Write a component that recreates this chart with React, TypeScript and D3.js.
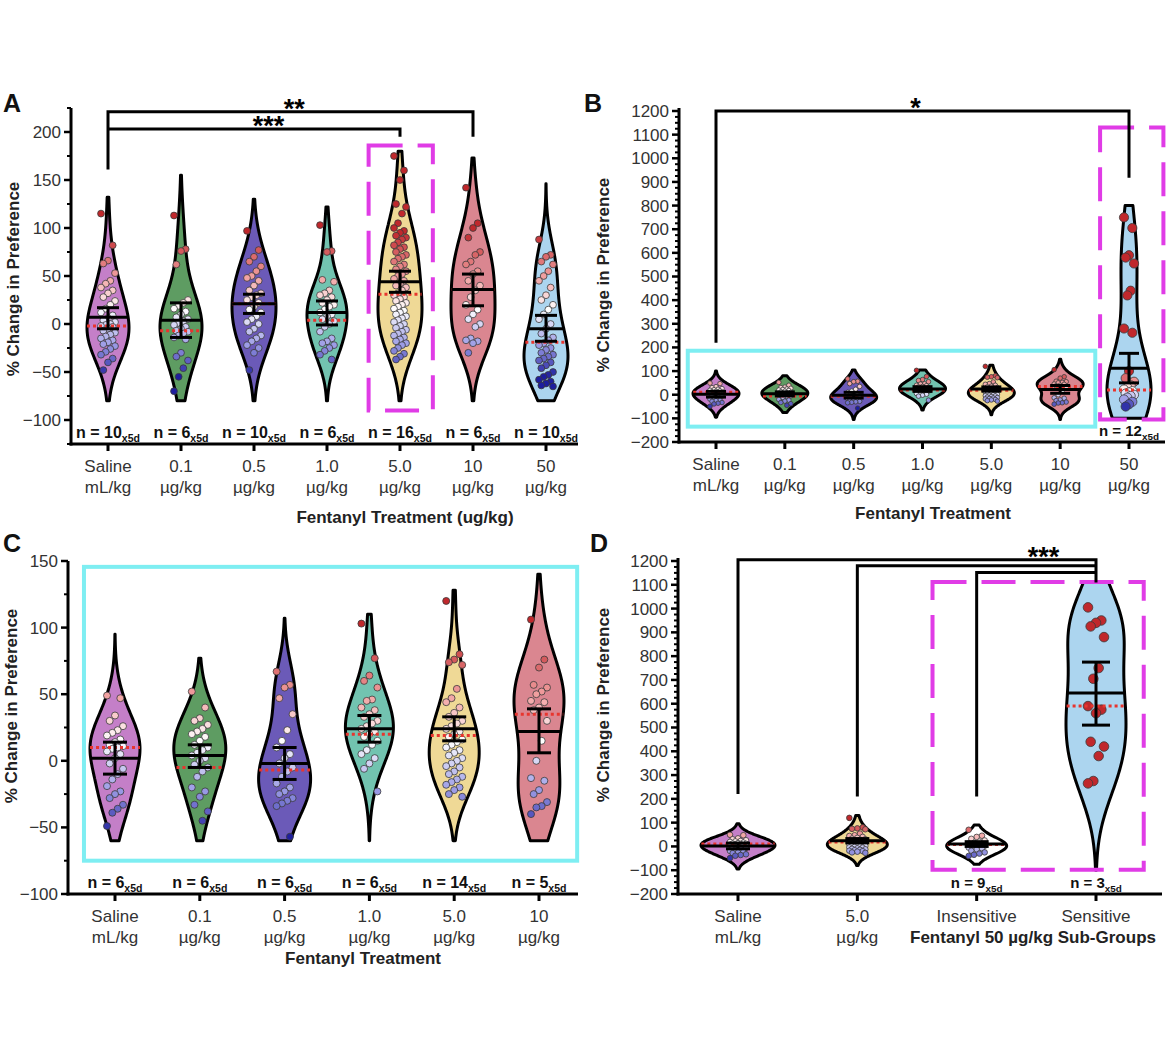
import React from "react";
import * as d3 from "d3";

const FONT = "'Liberation Sans', Arial, Helvetica, sans-serif";

// ---------------- DATA ----------------
// Panel A
const catTopA = ["Saline", "0.1", "0.5", "1.0", "5.0", "10", "50"];
const catBotA = ["mL/kg", "µg/kg", "µg/kg", "µg/kg", "µg/kg", "µg/kg", "µg/kg"];
const yTicksA = [-100, -50, 0, 50, 100, 150, 200];
const aSaline = [115, 82, 66, 63, 53, 45, 42, 38, 35, 32, 28, 24, 20, 16, 12, 9, 6, 4, 2, 0, -1, -2, -3, -5, -7, -9, -11, -13, -15, -17, -19, -21, -23, -26, -29, -32, -36, -40, -48];
const aF01 = [113, 78, 76, 62, 25, 22, 19, 16, 13, 10, 7, 5, 3, 1, -1, -3, -5, -7, -8, -10, -12, -14, -16, -30, -34, -38, -46, -55, -70];
const aF05 = [97, 77, 70, 65, 60, 55, 50, 48, 45, 40, 35, 32, 30, 28, 25, 22, 18, 15, 12, 8, 5, 2, 0, -5, -8, -12, -15, -18, -22, -25, -30, -48];
const aF1 = [103, 76, 75, 46, 44, 35, 32, 30, 28, 25, 22, 20, 18, 15, 12, 10, 8, 5, 3, 0, -3, -8, -15, -18, -20, -22, -25, -28, -32, -37];
const aF5 = [175, 160, 150, 125, 122, 115, 105, 100, 97, 95, 92, 90, 88, 85, 82, 80, 78, 75, 72, 70, 68, 65, 62, 60, 57, 55, 52, 50, 47, 45, 42, 40, 38, 35, 32, 30, 28, 26, 24, 22, 20, 18, 16, 14, 12, 10, 8, 6, 4, 2, 0, -2, -4, -6, -8, -10, -12, -14, -16, -18, -20, -22, -25, -28, -31, -34, -37];
const aF10 = [142, 105, 100, 90, 75, 72, 65, 62, 55, 52, 45, 40, 35, 28, 20, 15, 10, 5, 0, -3, -15, -17, -18, -20, -30];
const aF50 = [88, 72, 70, 65, 62, 55, 50, 45, 38, 30, 25, 20, 15, 10, 5, 0, -5, -10, -14, -17, -20, -22, -25, -27, -30, -32, -34, -36, -38, -40, -43, -46, -50, -53, -55, -58, -60, -62, -64, -65];
const meanA = [7, 4, 21, 12, 44, 36, -5];
const errHiA = [17, 22, 31, 24, 55, 52, 9];
const errLoA = [-5, -14, 11, -1, 33, 19, -18];
const medianA = [-2, -7, 21, 4, 31, 36, -19];
const nA = [10, 6, 10, 6, 16, 6, 10];
const vLoA = [-80, -80, -80, -80, -80, -80, -80];
const vHiA = [132, 155, 130, 122, 180, 173, 146];

// Panel C (also the small groups in B and D)
const catTopC = ["Saline", "0.1", "0.5", "1.0", "5.0", "10"];
const catBotC = ["mL/kg", "µg/kg", "µg/kg", "µg/kg", "µg/kg", "µg/kg"];
const yTicksC = [-100, -50, 0, 50, 100, 150];
const cSaline = [49, 47, 34, 30, 26, 23, 21, 19, 16, 14, 12, 11, 10, 9, 7, 5, 2, -2, -6, -10, -14, -19, -23, -25, -28, -33, -36, -39, -49];
const cF01 = [52, 40, 32, 30, 27, 24, 22, 20, 18, 15, 12, 10, 8, 6, 4, 2, 0, -3, -5, -8, -12, -20, -23, -27, -33, -38, -45];
const cF05 = [67, 57, 55, 47, 35, 23, 15, 10, 5, 2, -2, -5, -8, -12, -17, -20, -23, -25, -28, -30, -32, -34, -57];
const cF1 = [103, 77, 64, 60, 55, 46, 45, 40, 38, 35, 33, 30, 28, 26, 24, 22, 20, 18, 15, 12, 8, 5, 2, -2, -6, -23];
const cF5 = [120, 80, 76, 74, 72, 54, 47, 44, 40, 36, 33, 30, 28, 26, 24, 22, 20, 18, 16, 14, 12, 10, 8, 6, 4, 2, 0, -2, -4, -5, -8, -10, -12, -14, -16, -18, -20, -22, -25, -27];
const cF10 = [106, 76, 70, 57, 55, 52, 50, 45, 44, 40, 38, 30, 15, 0, -13, -15, -22, -25, -31, -34, -35, -40];
const meanC = [2, 4, -2, 24, 24, 22];
const errHiC = [14, 12, 10, 34, 33, 39];
const errLoC = [-10, -5, -14, 14, 15, 6];
const medianC = [10, -5, -7, 20, 19, 35];
const nC = [6, 6, 6, 6, 14, 5];
const vLoC = [-60, -60, -60, -60, -60, -60];
const vHiC = [95, 77, 107, 110, 128, 140];

// Panel B
const catTopB = ["Saline", "0.1", "0.5", "1.0", "5.0", "10", "50"];
const catBotB = ["mL/kg", "µg/kg", "µg/kg", "µg/kg", "µg/kg", "µg/kg", "µg/kg"];
const yTicksB = [-200, -100, 0, 100, 200, 300, 400, 500, 600, 700, 800, 900, 1000, 1100, 1200];
const bF50 = [750, 705, 590, 580, 555, 440, 420, 280, 262, 100, 70, 55, 40, 30, 22, 15, 10, 5, 0, -5, -12, -20, -30, -40, -50];
const meanB = [2, 4, -2, 24, 24, 22, 112];
const errHiB = [14, 12, 10, 34, 33, 39, 175];
const errLoB = [-10, -5, -14, 14, 15, 6, 50];
const medianB = [10, -5, -7, 20, 19, 35, 20];
const nB = [null, null, null, null, null, null, 12];
const vLoB = [-95, -75, -105, -65, -85, -105, -100];
const vHiB = [100, 80, 105, 105, 125, 150, 800];

// Panel D
const catTopD = ["Saline", "5.0", "Insensitive", "Sensitive"];
const catBotD = ["mL/kg", "µg/kg", "", ""];
const yTicksD = yTicksB;
const dInsensitive = [70, 45, 40, 32, 25, 20, 15, 12, 10, 8, 5, 3, 0, -3, -5, -8, -12, -18, -25, -30, -35, -40];
const dSensitive = [1005, 950, 940, 925, 880, 750, 705, 590, 575, 560, 440, 420, 380, 275, 265];
const meanD = [2, 24, 10, 645];
const errHiD = [14, 33, 20, 775];
const errLoD = [-10, 15, 0, 510];
const medianD = [10, 19, 8, 590];
const nD = [null, null, 9, 3];
const vLoD = [-95, -80, -75, -100];
const vHiD = [95, 130, 90, 1110];

// violin colours
const fillSaline = "#c47fc8";
const fill01 = "#5e9c62";
const fill05 = "#6b5ab8";
const fill1 = "#72c3b0";
const fill5 = "#efd996";
const fill10 = "#da8690";
const fill50 = "#acd5ef";

const ptColor = d3
  .scaleLinear<string>()
  .domain([-55, -22, 15, 48, 95])
  .range(["#1e1e9e", "#9c9ce6", "#ffffff", "#f2a4a4", "#c0282c"])
  .clamp(true);

// ---------------- helpers ----------------
function kde(pts: number[], h: number, lo: number, hi: number, steps = 160) {
  const vals = d3.range(steps + 1).map((i) => lo + ((hi - lo) * i) / steps);
  const dens = vals.map((v) => d3.sum(pts, (p) => Math.exp(-0.5 * ((v - p) / h) ** 2)));
  const mx = d3.max(dens) || 1;
  return vals.map((v, i) => ({ v, d: dens[i] / mx }));
}

function widthAt(prof: { v: number; d: number }[], v: number) {
  if (v <= prof[0].v) return prof[0].d;
  for (let i = 1; i < prof.length; i++) {
    if (prof[i].v >= v) {
      const a = prof[i - 1], b = prof[i];
      const t = (v - a.v) / (b.v - a.v);
      return a.d + t * (b.d - a.d);
    }
  }
  return prof[prof.length - 1].d;
}

type Spec = {
  axisX: number;
  xEnd: number;
  yDomain: [number, number];
  yRange: [number, number];
  axisTopExtra: number;
  firstX: number;
  lastX: number;
  cats1: string[];
  cats2: string[];
  yTicks: number[];
  minorStep: number;
  groups: number[][];
  means: number[];
  hi: number[];
  lo: number[];
  med: number[];
  vlo: number[];
  vhi: number[];
  fills: string[];
  ns: (number | null)[];
  bw: number[];
  hw: number[];
  r: number[];
  jit: number[];
  cap: number[];
  nFont: number;
};

const TICK_FS = 17;

function Panel({ s, children }: { s: Spec; children?: (x: d3.ScaleLinear<number, number>, y: d3.ScaleLinear<number, number>) => React.ReactNode }) {
  const y = d3.scaleLinear().domain(s.yDomain).range(s.yRange);
  const x = d3.scaleLinear().domain([0, s.cats1.length - 1]).range([s.firstX, s.lastX]);
  const axisY = y(s.yDomain[0]);
  const minors = d3.range(s.yDomain[0], s.yDomain[1] + 0.001, s.minorStep).filter((v) => !s.yTicks.includes(v));
  return (
    <g>
      {s.groups.map((pts, gi) => {
        const cx = x(gi);
        const prof = kde(pts, s.bw[gi], s.vlo[gi], s.vhi[gi]);
        const area = d3
          .area<{ v: number; d: number }>()
          .y((p) => y(p.v))
          .x0((p) => cx - p.d * s.hw[gi])
          .x1((p) => cx + p.d * s.hw[gi])
          .curve(d3.curveBasis);
        const wm = widthAt(prof, s.means[gi]) * s.hw[gi];
        const wmed = widthAt(prof, s.med[gi]) * s.hw[gi];
        return (
          <g key={gi}>
            <path d={area(prof) || ""} fill={s.fills[gi]} stroke="#000" strokeWidth={3} strokeLinejoin="round" />
            {pts.map((v, i) => {
              const j = (((i * 5) % 7) - 3) / 3;
              return (
                <circle key={i} cx={cx + j * s.jit[gi]} cy={y(v)} r={s.r[gi]} fill={ptColor(v)} stroke="#3a3a3a" strokeWidth={0.8} />
              );
            })}
            <line x1={cx - wmed} x2={cx + wmed} y1={y(s.med[gi])} y2={y(s.med[gi])} stroke="#e8352e" strokeWidth={3} strokeDasharray="3,3" />
            <line x1={cx - wm} x2={cx + wm} y1={y(s.means[gi])} y2={y(s.means[gi])} stroke="#000" strokeWidth={3} />
            <line x1={cx} x2={cx} y1={y(s.lo[gi])} y2={y(s.hi[gi])} stroke="#000" strokeWidth={3} />
            <line x1={cx - s.cap[gi]} x2={cx + s.cap[gi]} y1={y(s.lo[gi])} y2={y(s.lo[gi])} stroke="#000" strokeWidth={3} />
            <line x1={cx - s.cap[gi]} x2={cx + s.cap[gi]} y1={y(s.hi[gi])} y2={y(s.hi[gi])} stroke="#000" strokeWidth={3} />
            {s.ns[gi] != null && (
              <text x={cx} y={axisY - 6} textAnchor="middle" fontWeight="bold" fontSize={s.nFont} fill="#111">
                n = {s.ns[gi]}
                <tspan fontSize={s.nFont * 0.66} dy={4}>x5d</tspan>
              </text>
            )}
          </g>
        );
      })}
      {children && children(x, y)}
      <line x1={s.axisX} x2={s.axisX} y1={axisY + 1.5} y2={y(s.yDomain[1]) - s.axisTopExtra} stroke="#000" strokeWidth={3} />
      {s.yTicks.map((t) => (
        <g key={t}>
          <line x1={s.axisX - 7} x2={s.axisX} y1={y(t)} y2={y(t)} stroke="#000" strokeWidth={2.5} />
          <text x={s.axisX - 10} y={y(t)} dy="0.35em" textAnchor="end" fontSize={TICK_FS} fill="#333">
            {t < 0 ? "\u2212" + Math.abs(t) : t}
          </text>
        </g>
      ))}
      {minors.map((t) => (
        <line key={"m" + t} x1={s.axisX - 4} x2={s.axisX} y1={y(t)} y2={y(t)} stroke="#000" strokeWidth={2} />
      ))}
      <line x1={s.axisX - 1.5} x2={s.xEnd} y1={axisY} y2={axisY} stroke="#000" strokeWidth={3} />
      {s.cats1.map((c, i) => (
        <g key={c + i}>
          <line x1={x(i)} x2={x(i)} y1={axisY} y2={axisY + 7} stroke="#000" strokeWidth={3} />
          <text x={x(i)} y={axisY + 28} textAnchor="middle" fontSize={TICK_FS} fill="#333">{c}</text>
          {s.cats2[i] && (
            <text x={x(i)} y={axisY + 49} textAnchor="middle" fontSize={TICK_FS} fill="#333">{s.cats2[i]}</text>
          )}
        </g>
      ))}
    </g>
  );
}

const MAG = "#e03ce6";
const CYAN = "#7eeef2";
const TITLE_FS = 17;

export default function App() {
  const specA: Spec = {
    axisX: 71, xEnd: 578, yDomain: [-125, 225], yRange: [444, 108], axisTopExtra: 0,
    firstX: 108, lastX: 546, cats1: catTopA, cats2: catBotA, yTicks: yTicksA, minorStep: 25,
    groups: [aSaline, aF01, aF05, aF1, aF5, aF10, aF50],
    means: meanA, hi: errHiA, lo: errLoA, med: medianA, vlo: vLoA, vhi: vHiA,
    fills: [fillSaline, fill01, fill05, fill1, fill5, fill10, fill50],
    ns: nA, bw: [24, 30, 24, 22, 26, 26, 24], hw: [21, 21, 22, 20, 22, 22, 22],
    r: [3.4, 3.4, 3.4, 3.4, 3.4, 3.4, 3.4], jit: [7, 7, 7, 7, 6, 7, 7], cap: [11, 11, 11, 11, 11, 11, 11], nFont: 16,
  };
  const specB: Spec = {
    axisX: 679, xEnd: 1165, yDomain: [-200, 1200], yRange: [442, 111], axisTopExtra: 3,
    firstX: 716, lastX: 1129, cats1: catTopB, cats2: catBotB, yTicks: yTicksB, minorStep: 25,
    groups: [cSaline, cF01, cF05, cF1, cF5, cF10, bF50],
    means: meanB, hi: errHiB, lo: errLoB, med: medianB, vlo: vLoB, vhi: vHiB,
    fills: [fillSaline, fill01, fill05, fill1, fill5, fill10, fill50],
    ns: nB, bw: [26, 26, 26, 26, 26, 26, 150], hw: [23, 23, 23, 23, 23, 23, 22],
    r: [2.3, 2.3, 2.3, 2.3, 2.3, 2.3, 4.6], jit: [6, 6, 6, 6, 6, 6, 5], cap: [10, 10, 10, 10, 10, 10, 10], nFont: 15,
  };
  const specC: Spec = {
    axisX: 68, xEnd: 578, yDomain: [-100, 150], yRange: [894, 561], axisTopExtra: 0,
    firstX: 115, lastX: 539, cats1: catTopC, cats2: catBotC, yTicks: yTicksC, minorStep: 25,
    groups: [cSaline, cF01, cF05, cF1, cF5, cF10],
    means: meanC, hi: errHiC, lo: errLoC, med: medianC, vlo: vLoC, vhi: vHiC,
    fills: [fillSaline, fill01, fill05, fill1, fill5, fill10],
    ns: nC, bw: [18, 18, 19, 18, 19, 26], hw: [25, 26, 26, 24, 25, 25],
    r: [3.5, 3.5, 3.5, 3.5, 3.5, 3.5], jit: [8, 8, 8, 8, 8, 8], cap: [12, 12, 12, 12, 12, 12], nFont: 16,
  };
  const specD: Spec = {
    axisX: 678, xEnd: 1162, yDomain: [-200, 1200], yRange: [894, 561], axisTopExtra: 3,
    firstX: 738, lastX: 1096, cats1: catTopD, cats2: catBotD, yTicks: yTicksD, minorStep: 25,
    groups: [cSaline, cF5, dInsensitive, dSensitive],
    means: meanD, hi: errHiD, lo: errLoD, med: medianD, vlo: vLoD, vhi: vHiD,
    fills: [fillSaline, fill5, "#ffffff", fill50],
    ns: nD, bw: [26, 26, 26, 150], hw: [37, 30, 30, 30],
    r: [2.8, 2.8, 2.8, 4.8], jit: [8, 8, 8, 8], cap: [12, 12, 12, 14], nFont: 15,
  };

  const bracket = (pts: [number, number][]) => d3.line()(pts) || "";

  return (
    <div style={{ position: "absolute", left: 0, top: 0 }}>
      <svg width={1169} height={1046} viewBox="0 0 1169 1046" style={{ display: "block", background: "#fff" }} fontFamily={FONT}>
        <rect x={0} y={0} width={1169} height={1046} fill="#fff" />

        {/* ---------- Panel A ---------- */}
        <text x={3} y={112} fontSize={25} fontWeight="bold" fill="#111">A</text>
        <text transform="translate(19,279) rotate(-90)" textAnchor="middle" fontSize={TITLE_FS} fontWeight="bold" fill="#222">% Change in Preference</text>
        <Panel s={specA}>
          {(x, y) => (
            <g>
              <path d={bracket([[x(0), y(161)], [x(0), y(221)], [x(5), y(221)], [x(5), y(195)]])} fill="none" stroke="#000" strokeWidth={3} />
              <path d={bracket([[x(0), y(203)], [x(4), y(203)], [x(4), y(195)]])} fill="none" stroke="#000" strokeWidth={3} />
              <text x={x(2.55)} y={y(221) + 6} textAnchor="middle" fontSize={27} fontWeight="bold">**</text>
              <text x={x(2.2)} y={y(203) + 6} textAnchor="middle" fontSize={27} fontWeight="bold">***</text>
              <rect x={x(3.57)} y={y(186)} width={x(4.45) - x(3.57)} height={y(-90) - y(186)} fill="none" stroke={MAG} strokeWidth={4} strokeDasharray="34,15" />
            </g>
          )}
        </Panel>
        <text x={405} y={523} textAnchor="middle" fontSize={TITLE_FS} fontWeight="bold" fill="#222">Fentanyl Treatment (ug/kg)</text>

        {/* ---------- Panel B ---------- */}
        <text x={584} y={112} fontSize={25} fontWeight="bold" fill="#111">B</text>
        <text transform="translate(609,275) rotate(-90)" textAnchor="middle" fontSize={TITLE_FS} fontWeight="bold" fill="#222">% Change in Preference</text>
        <Panel s={specB}>
          {(x, y) => (
            <g>
              <rect x={x(-0.41)} y={y(186)} width={x(5.51) - x(-0.41)} height={y(-135) - y(186)} fill="none" stroke={CYAN} strokeWidth={4} />
              <rect x={x(5.58)} y={y(1130)} width={x(6.5) - x(5.58)} height={y(-105) - y(1130)} fill="none" stroke={MAG} strokeWidth={4} strokeDasharray="34,15" />
              <path d={bracket([[x(0), y(220)], [x(0), y(1200)], [x(6), y(1200)], [x(6), y(918)]])} fill="none" stroke="#000" strokeWidth={3} />
              <text x={x(2.9)} y={y(1200) + 6} textAnchor="middle" fontSize={27} fontWeight="bold">*</text>
            </g>
          )}
        </Panel>
        <text x={933} y={519} textAnchor="middle" fontSize={TITLE_FS} fontWeight="bold" fill="#222">Fentanyl Treatment</text>

        {/* ---------- Panel C ---------- */}
        <text x={3} y={552} fontSize={25} fontWeight="bold" fill="#111">C</text>
        <text transform="translate(17,706) rotate(-90)" textAnchor="middle" fontSize={TITLE_FS} fontWeight="bold" fill="#222">% Change in Preference</text>
        <Panel s={specC}>
          {(x, y) => (
            <rect x={x(-0.366)} y={y(145.6)} width={x(5.45) - x(-0.366)} height={y(-75) - y(145.6)} fill="none" stroke={CYAN} strokeWidth={4} />
          )}
        </Panel>
        <text x={363} y={964} textAnchor="middle" fontSize={TITLE_FS} fontWeight="bold" fill="#222">Fentanyl Treatment</text>

        {/* ---------- Panel D ---------- */}
        <text x={590} y={552} fontSize={25} fontWeight="bold" fill="#111">D</text>
        <text transform="translate(609,705) rotate(-90)" textAnchor="middle" fontSize={TITLE_FS} fontWeight="bold" fill="#222">% Change in Preference</text>
        <Panel s={specD}>
          {(x, y) => (
            <g>
              <rect x={x(1.63)} y={y(1112)} width={x(3.4) - x(1.63)} height={y(-98) - y(1112)} fill="none" stroke={MAG} strokeWidth={4} strokeDasharray="34,15" />
              <path d={bracket([[x(0), y(220)], [x(0), y(1205)], [x(3), y(1205)], [x(3), y(1110)]])} fill="none" stroke="#000" strokeWidth={3} />
              <path d={bracket([[x(1), y(210)], [x(1), y(1180)], [x(3), y(1180)]])} fill="none" stroke="#000" strokeWidth={3} />
              <path d={bracket([[x(2), y(210)], [x(2), y(1152)], [x(3), y(1152)]])} fill="none" stroke="#000" strokeWidth={3} />
              <text x={x(2.56)} y={y(1205) + 6} textAnchor="middle" fontSize={27} fontWeight="bold">***</text>
            </g>
          )}
        </Panel>
        <text x={1033} y={943} textAnchor="middle" fontSize={TITLE_FS} fontWeight="bold" fill="#222">Fentanyl 50 µg/kg Sub-Groups</text>
      </svg>
    </div>
  );
}
